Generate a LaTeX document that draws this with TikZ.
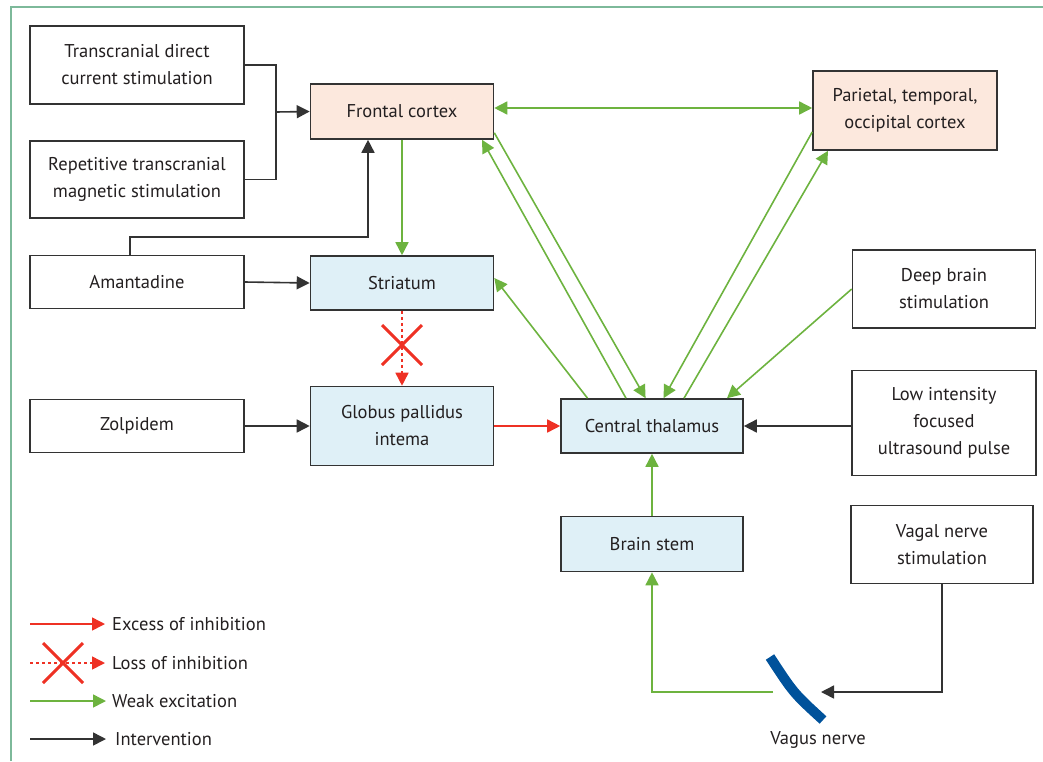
\documentclass[tikz,border=0pt]{standalone}
\usepackage{fontspec}
\setmainfont{PT Sans}
\usetikzlibrary{arrows.meta,calc}
\definecolor{txt}{HTML}{231F20}
\definecolor{bord}{HTML}{333333}
\definecolor{peach}{HTML}{FCE8DD}
\definecolor{paleblue}{HTML}{DFF0F7}
\definecolor{exgreen}{HTML}{6DB33F}
\definecolor{inred}{HTML}{EE3124}
\definecolor{nerveblue}{HTML}{00529B}
\definecolor{frame}{HTML}{7DB99A}
\tikzset{
  box/.style={draw=bord,line width=1.6pt,inner sep=0pt,align=center,text=txt,
    font=\fontsize{18.5}{27}\selectfont},
  wbox/.style={box,fill=white},
  pbox/.style={box,fill=peach},
  bbox/.style={box,fill=paleblue},
  tip/.style={-{Triangle[length=13pt,width=13pt]}},
  gtip/.style={{Triangle[length=13pt,width=13pt]}-{Triangle[length=13pt,width=13pt]}},
  grn/.style={draw=exgreen,line width=1.6pt},
  redl/.style={draw=inred,line width=1.6pt},
  blk/.style={draw=bord,line width=1.6pt},
  dashr/.style={redl,dash pattern=on 3pt off 3pt},
  crossl/.style={draw=inred,line width=3pt},
  legtxt/.style={anchor=west,inner sep=0pt,text=txt,font=\fontsize{18.5}{27}\selectfont},
}
\begin{document}
\begin{tikzpicture}[x=1pt,y=-1pt]
\useasboundingbox (0,0) rectangle (1043,761);
% frame
\draw[frame,line width=2pt] (11,761) -- (11,7) -- (1043,7);
% boxes
\node[wbox,minimum width=214pt,minimum height=78pt] (tdcs) at (137,65) {Transcranial direct\\current stimulation};
\node[wbox,minimum width=214pt,minimum height=77pt] (rtms) at (137,179.5) {Repetitive transcranial\\magnetic stimulation};
\node[pbox,minimum width=183pt,minimum height=55pt] (fc) at (402,111.5) {Frontal cortex};
\node[pbox,minimum width=184pt,minimum height=79pt] (ptc) at (905,110.5) {Parietal, temporal,\\occipital cortex};
\node[wbox,minimum width=214pt,minimum height=53pt] (ama) at (137,282) {Amantadine};
\node[bbox,minimum width=183pt,minimum height=54pt] (str) at (402,283) {Striatum};
\node[wbox,minimum width=183pt,minimum height=78pt] (dbs) at (944,289) {Deep brain\\stimulation};
\node[wbox,minimum width=214pt,minimum height=53pt] (zol) at (137,426) {Zolpidem};
\node[bbox,minimum width=183pt,minimum height=79pt] (gpi) at (402,426) {Globus pallidus\\intema};
\node[bbox,minimum width=182pt,minimum height=54pt] (ct) at (652,426) {Central thalamus};
\node[wbox,minimum width=184pt,minimum height=105pt] (lifu) at (944,423) {Low intensity\\focused\\ultrasound pulse};
\node[bbox,minimum width=182pt,minimum height=55pt] (bs) at (652,544) {Brain stem};
\node[wbox,minimum width=182pt,minimum height=78pt] (vns) at (942,544.5) {Vagal nerve\\stimulation};
% vagus nerve
\coordinate (nv1) at (770,657);
\coordinate (nv2) at (823,720);
\draw[nerveblue,line width=10pt] (nv1) .. controls (793.5,693) .. (nv2);
\node[legtxt,anchor=center] (vnl) at (818,740) {Vagus nerve};
% intervention connectors
\coordinate (j) at (276,112);
\draw[blk] (tdcs.east) -| (j) |- (rtms.east);
\draw[blk,tip] (j) -- (fc.west);
\coordinate (a1) at (368,237);
\draw[blk,tip] ([xshift=-7pt]ama.north) |- (a1) -- (a1 |- fc.south);
\draw[blk,tip] (ama.east) -- (str.west);
\draw[blk,tip] (zol.east) -- (gpi.west);
\draw[blk,tip] (lifu.west |- ct.east) -- (ct.east);
\coordinate (vtip) at (821,692);
\draw[blk,tip] (vns.south) |- (vtip);
% excitation
\draw[grn,tip] (fc.south) -- (str.north);
\draw[grn,gtip] ([yshift=3.5pt]fc.east) -- ([yshift=3.5pt]fc.east -| ptc.west);
\draw[grn,tip] ([yshift=7pt]fc.south east) -- ([xshift=-6.4pt]ct.north);
\draw[grn,tip] ([xshift=-26pt]ct.north) -- ([xshift=80pt]fc.south);
\draw[grn,tip] ([yshift=-21.5pt]ptc.west) -- ([xshift=11.5pt]ct.north);
\draw[grn,tip] ([xshift=32pt]ct.north) -- ([xshift=-77pt]ptc.south);
\draw[grn,tip] ([xshift=-64.5pt]ct.north) -- ([yshift=5pt]str.east);
\draw[grn,tip] (dbs.west) -- ([xshift=75pt]ct.north);
\draw[grn,tip] (bs.north) -- (ct.south);
\coordinate (gs) at (773,692);
\draw[grn,tip] (gs) -| (bs.south);
% inhibition
\draw[redl,tip] (gpi.east) -- (ct.west);
\draw[dashr,tip] (str.south) -- (gpi.north);
\coordinate (x1) at (402,345);
\draw[crossl] ($(x1)+(-20,-20)$) -- ($(x1)+(20,20)$) ($(x1)+(-20,20)$) -- ($(x1)+(20,-20)$);
% legend
\coordinate (l1a) at (30,624); \coordinate (l1b) at (105,624);
\coordinate (l2a) at (30,663); \coordinate (l2b) at (105,663);
\coordinate (l3a) at (30,701); \coordinate (l3b) at (106,701);
\coordinate (l4a) at (30,739); \coordinate (l4b) at (106,739);
\draw[redl,tip] (l1a) -- (l1b);
\draw[dashr,tip] (l2a) -- (l2b);
\coordinate (x2) at (63,663);
\draw[crossl] ($(x2)+(-20,-20)$) -- ($(x2)+(20,20)$) ($(x2)+(-20,20)$) -- ($(x2)+(20,-20)$);
\draw[grn,tip] (l3a) -- (l3b);
\draw[blk,tip] (l4a) -- (l4b);
\node[legtxt] (t1) at (112,624) {Excess of inhibition};
\node[legtxt] (t2) at (112,663) {Loss of inhibition};
\node[legtxt] (t3) at (112,701) {Weak excitation};
\node[legtxt] (t4) at (115,739) {Intervention};
\end{tikzpicture}
\end{document}
